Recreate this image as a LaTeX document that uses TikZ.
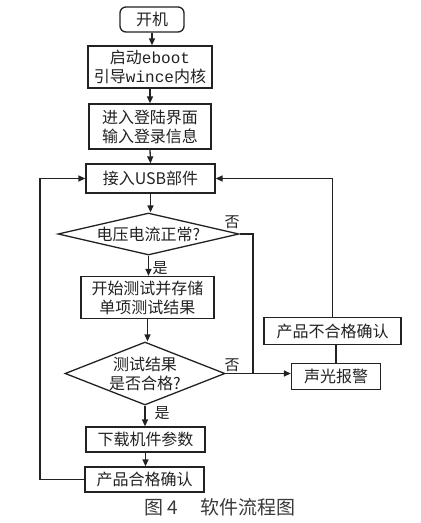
\documentclass[tikz,border=0pt]{standalone}
\usepackage{fontspec}
\setmainfont{Liberation Serif}
\setmonofont{Liberation Mono}
\newfontfamily\cjk{Noto Sans CJK SC}
\usetikzlibrary{shapes.geometric,arrows.meta}
\definecolor{lc}{HTML}{222222}
\definecolor{capc}{HTML}{3A3A3A}
\begin{document}
\begin{tikzpicture}[x=1pt,y=-1pt,
  txt/.style={font=\cjk\fontsize{16}{19}\selectfont, text=lc, align=center, inner sep=0pt},
  box/.style={txt, draw=lc, line width=1.3pt},
  dia/.style={draw=lc, line width=1.3pt, inner sep=0pt, shape=diamond},
  flow/.style={draw=lc, line width=1.3pt, -{Triangle[length=7pt,width=6pt]}},
  link/.style={draw=lc, line width=1.3pt},
  lab/.style={font=\cjk\fontsize{15}{18}\selectfont, text=lc, inner sep=0pt}]
\useasboundingbox (0,0) rectangle (421,523);
\fill[white] (0,0) rectangle (421,523);

\node[box, rounded corners=6pt, minimum width=64pt, minimum height=25pt] (start) at (152,19.5) {开机};
\node[box, minimum width=124pt, minimum height=42pt] (boot) at (150,67) {启动{\ttfamily eboot}\\引导{\ttfamily wince}内核};
\node[box, minimum width=122pt, minimum height=45pt] (login) at (150,126.5) {进入登陆界面\\输入登录信息};
\node[box, minimum width=129pt, minimum height=29pt] (usb) at (150.5,178.5) {接入USB部件};
\node[dia, minimum width=181pt, minimum height=42pt] (d1) at (148.5,234) {};
\node[txt] (d1t) at (d1.center) {电压电流正常?};
\node[box, minimum width=133pt, minimum height=42pt] (test) at (147.5,297.5) {开始测试并存储\\单项测试结果};
\node[dia, minimum width=160pt, minimum height=63pt] (d2) at (145,373.5) {};
\node[txt] (d2t) at (d2.center) {测试结果\\是否合格?};
\node[box, minimum width=89pt, minimum height=26pt] (alarm) at (336,376.5) {声光报警};
\node[box, minimum width=137pt, minimum height=27pt] (fail) at (332.5,331) {产品不合格确认};
\node[box, minimum width=119pt, minimum height=25pt] (dl) at (145.5,439.5) {下载机件参数};
\node[box, minimum width=119pt, minimum height=25pt] (ok) at (144.5,479.5) {产品合格确认};

\node[lab] (no1) at (232,222) {否};
\node[lab] (yes1) at (160,268) {是};
\node[lab] (no2) at (232,365) {否};
\node[lab] (yes2) at (162,413) {是};

\node[font=\cjk\fontsize{19}{22}\selectfont, text=capc, inner sep=0pt] (cap) at (220,507) {图 4\hspace{1.2em}软件流程图};

\coordinate (jx) at (253,0);
\coordinate (lx) at (40,0);

\draw[flow] (start.south) -- (start.south |- boot.north);
\draw[flow] (boot.south) -- (login.north);
\draw[flow] (login.south) -- (usb.north);
\draw[flow] (usb.south) -- (usb.south |- d1.north);
\draw[flow] (d1.south) -- (d1.south |- test.north);
\draw[flow] (test.south) -- (test.south |- d2.north);
\draw[flow] (d2.south) -- (d2.south |- dl.north);
\draw[flow] (dl.south) -- (dl.south |- ok.north);
\draw[flow] (d2.east) -- (d2.east -| alarm.west);
\draw[link] (d1.east) -| (jx |- d2.east);
\draw[link] (alarm.north) -- (alarm.north |- fail.south);
\draw[flow] (fail.north) |- (usb.east);
\draw[flow] (ok.west) -- (ok.west -| lx) |- (usb.west);
\end{tikzpicture}
\end{document}
